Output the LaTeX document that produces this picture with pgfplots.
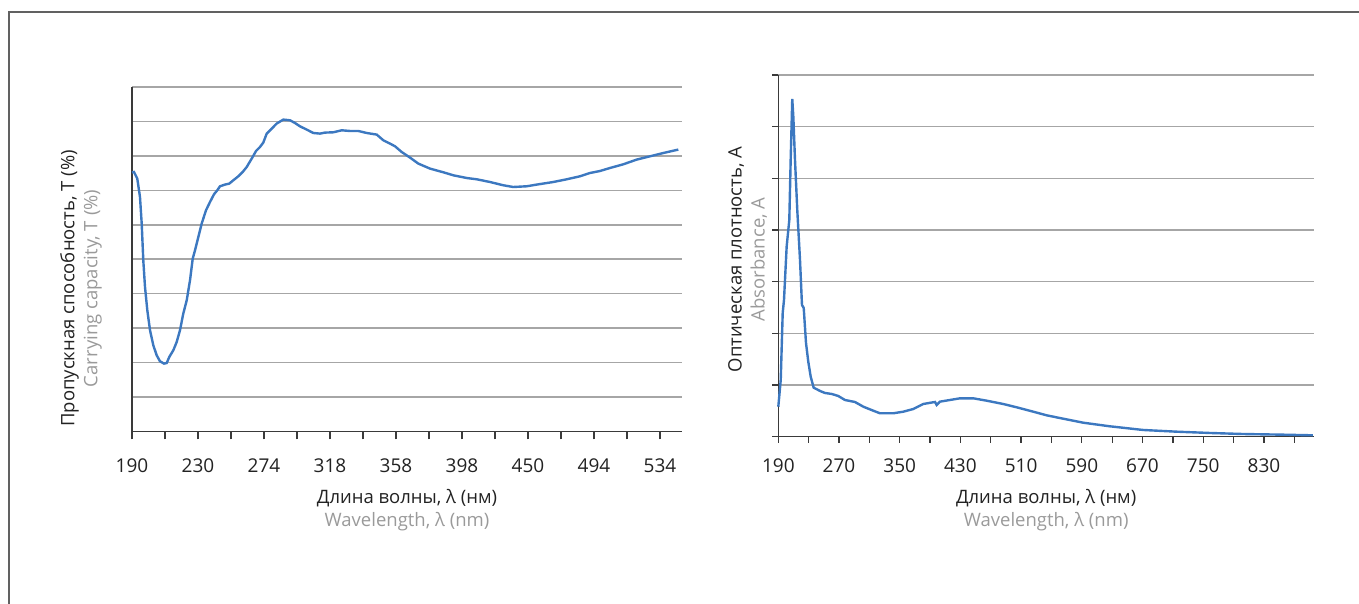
\documentclass[border=0pt]{standalone}
\usepackage{pgfplots}
\pgfplotsset{compat=1.18}
\usepackage{fontspec}
\setmainfont{Open Sans}
\definecolor{curve}{HTML}{3C78C0}
\definecolor{gridc}{HTML}{A6A6A6}
\definecolor{axisc}{HTML}{3A3A3A}
\definecolor{labgray}{HTML}{9A9A9A}
\definecolor{labblack}{HTML}{222222}
\begin{document}
\begin{tikzpicture}
\useasboundingbox (0,0) rectangle (1359pt,604pt);
\draw[line width=2pt, color=axisc!80] (9pt,0) -- (9pt,592pt) -- (1359pt,592pt);
\pgfplotsset{
  common/.style={
    scale only axis,
    axis x line*=bottom, axis y line*=left,
    axis line style={-, draw=axisc, line width=1.6pt},
    ymajorgrids,
    grid style={draw=gridc, line width=1.5pt},
    tick align=outside,
    tick style={draw=axisc, line width=1.3pt},
    /pgf/number format/assume math mode=true,
    /pgf/number format/1000 sep={},
    ticklabel style={font=\fontsize{19}{22}\selectfont, text=labblack},
    yticklabels={},
    label style={font=\fontsize{18.5}{23}\selectfont, align=center, inner sep=0pt},
    clip=false,
  }
}
% Left chart
\begin{axis}[common,
  at={(132pt,172.5pt)}, anchor=south west,
  width=550pt, height=344.5pt,
  xmin=0, xmax=8.333, ymin=0, ymax=10,
  xtick={0,...,8},
  xticklabels={190,230,274,318,358,398,450,494,534},
  minor xtick={0.5,1.5,...,7.5},
  major tick length=8pt, minor tick length=8pt,
  xticklabel style={yshift=-16pt},
  ytick={0,...,10},
  ytick style={draw=none},
  xlabel={\textcolor{labblack}{Длина волны, λ (нм)}\\\textcolor{labgray}{Wavelength, λ (nm)}},
  xlabel style={at={(axis description cs:0.5,0)}, anchor=north, yshift=-58pt},
  ylabel={\textcolor{labblack}{Пропускная способность, T (\%)}\\\textcolor{labgray}{Carrying capacity, T (\%)}},
  ylabel style={at={(axis description cs:0,0.424)}, anchor=south, xshift=-3pt, yshift=30pt},
]
\addplot[curve, line width=2.4pt] coordinates {
(0,7.52) (0.030,7.533) (0.080,7.341) (0.121,6.807) (0.147,6.035) (0.171,4.970)
(0.197,4.194) (0.232,3.518) (0.273,2.938) (0.323,2.502) (0.374,2.212) (0.424,2.038)
(0.485,1.971) (0.526,1.988) (0.565,2.163) (0.626,2.357) (0.677,2.598) (0.727,2.938)
(0.777,3.422) (0.829,3.808) (0.879,4.389) (0.920,5.019) (0.955,5.260) (1.005,5.646)
(1.056,6.035) (1.121,6.421) (1.182,6.662) (1.242,6.885) (1.292,7.002) (1.333,7.118)
(1.409,7.167) (1.474,7.196) (1.535,7.292) (1.611,7.408) (1.677,7.533) (1.738,7.678)
(1.814,7.922) (1.879,8.142) (1.939,8.258) (1.989,8.386) (2.041,8.647) (2.117,8.792)
(2.192,8.938) (2.292,9.054) (2.394,9.033) (2.470,8.955) (2.545,8.859) (2.647,8.763)
(2.747,8.665) (2.848,8.647) (2.924,8.676) (3.050,8.685) (3.177,8.743) (3.303,8.723)
(3.429,8.723) (3.556,8.665) (3.708,8.618) (3.808,8.453) (3.909,8.357) (3.985,8.279)
(4.086,8.113) (4.212,7.951) (4.338,7.776) (4.515,7.631) (4.717,7.524) (4.868,7.437)
(5.071,7.358) (5.223,7.321) (5.424,7.242) (5.626,7.147) (5.777,7.097) (5.980,7.118)
(6.132,7.167) (6.383,7.242) (6.586,7.321) (6.788,7.408) (6.939,7.504) (7.091,7.562)
(7.242,7.649) (7.444,7.756) (7.647,7.893) (7.848,7.988) (8.050,8.084) (8.277,8.183)
};
\end{axis}
% Right chart
\begin{axis}[common,
  at={(778.3pt,167.3pt)}, anchor=south west,
  width=535.7pt, height=361.7pt,
  xmin=190, xmax=896, ymin=0, ymax=7,
  xtick={190,270,...,830},
  minor xtick={230,310,...,870},
  major tick length=6pt, minor tick length=6pt,
  xticklabel style={yshift=-12pt},
  ytick={0,...,7},
  xlabel={\textcolor{labblack}{Длина волны, λ (нм)}\\\textcolor{labgray}{Wavelength, λ (nm)}},
  xlabel style={at={(axis description cs:0.5,0)}, anchor=north, yshift=-52pt},
  ylabel={\textcolor{labblack}{Оптическая плотность, А}\\\textcolor{labgray}{Absorbance, A}},
  ylabel style={at={(axis description cs:0,0.49)}, anchor=south, yshift=11pt},
]
\addplot[curve, line width=2.4pt] coordinates {
(190,0.581) (193.2,1.098) (195.8,2.395) (197.5,2.646) (201,3.678) (204.5,4.195)
(206.3,5.356) (208.4,6.537) (209.8,6.194) (212,5.356) (215,4.388) (218.6,3.42)
(221.2,2.549) (223.5,2.491) (226.5,1.814) (229.5,1.452) (232.7,1.161) (236.6,0.949)
(245,0.885) (251.5,0.846) (260.4,0.827) (269,0.788) (277.9,0.710) (291,0.672)
(302,0.581) (315.2,0.503) (324,0.453) (341.5,0.453) (354.7,0.484) (367.9,0.536)
(381,0.633) (396.5,0.672) (398.7,0.614) (403,0.678) (416,0.710) (429.4,0.743)
(446.9,0.743) (464.6,0.697) (486.4,0.633) (504.1,0.569) (526,0.484) (543.6,0.414)
(565.5,0.348) (591.8,0.271) (627,0.201) (670.9,0.130) (714.9,0.097) (758.8,0.072)
(802.6,0.052) (855.3,0.039) (894.5,0.027)
};
\end{axis}
\end{tikzpicture}
\end{document}
